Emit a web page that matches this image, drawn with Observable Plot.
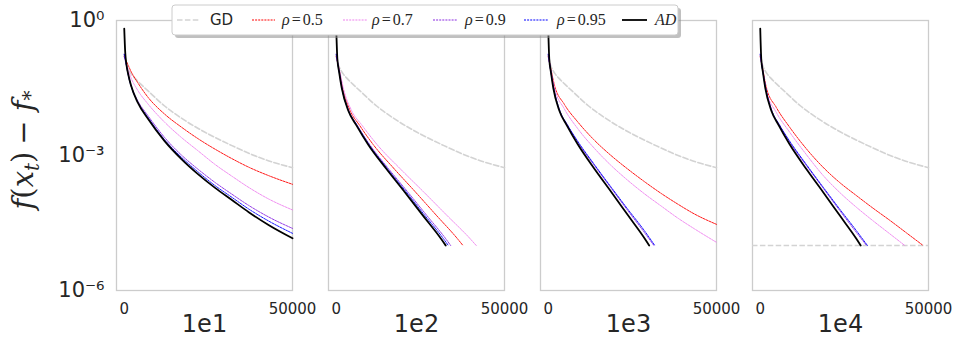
<!DOCTYPE html>
<html><head><meta charset="utf-8">
<script src="https://cdn.jsdelivr.net/npm/d3@7"></script>
<script src="https://cdn.jsdelivr.net/npm/@observablehq/plot@0.6"></script>
<style>
body{margin:0;background:#fff;}
#wrap{position:relative;width:960px;height:349px;}
#legend{position:absolute;left:0;top:0;pointer-events:none;}
</style></head><body><div id="wrap"></div>
<script>
// panels (x-axis labels under each subplot)
const panels = ["1e1", "1e2", "1e3", "1e4"];
// series
const seriesNames = ["GD", "ρ=0.5", "ρ=0.7", "ρ=0.9", "ρ=0.95", "AD"];
const seriesColors = ["#d3d3d3", "red", "violet", "blueviolet", "blue", "black"];
// ticks
const xTicks = [0, 50000];
const yTicks = [1, 1e-3, 1e-6];
const yTickLabels = ["10⁰", "10⁻³", "10⁻⁶"];
const stopLevel = 1e-5; // dashed reference line in last panel

// values: [iteration t, log10(f(x_t) - f*)]
const GD = [[0,-0.78],[500,-0.95],[1000,-1.05],[2000,-1.18],[3000,-1.27],[5000,-1.42],[7000,-1.56],[12000,-1.9],[17000,-2.17],[22000,-2.4],[27000,-2.6],[32000,-2.78],[37000,-2.95],[43000,-3.12],[50000,-3.27]];

const p1_r05 = [[0,-0.8],[600,-0.9],[1200,-1.0],[2000,-1.13],[4000,-1.38],[7000,-1.7],[12000,-2.08],[17000,-2.37],[22000,-2.63],[27000,-2.86],[32000,-3.07],[37000,-3.26],[43000,-3.45],[50000,-3.64]];
const p1_r07 = [[0,-0.8],[600,-0.95],[1200,-1.1],[2000,-1.27],[4000,-1.55],[7000,-1.85],[12000,-2.26],[17000,-2.6],[22000,-2.9],[27000,-3.2],[32000,-3.46],[37000,-3.71],[43000,-3.97],[50000,-4.21]];
const p1_r09 = [[0,-0.75],[600,-0.98],[1200,-1.2],[2000,-1.43],[4000,-1.78],[7000,-2.11],[12000,-2.6],[17000,-2.99],[22000,-3.31],[27000,-3.6],[32000,-3.86],[37000,-4.11],[43000,-4.37],[50000,-4.62]];
const p1_r095 = [[0,-0.75],[600,-0.98],[1200,-1.22],[2000,-1.45],[4000,-1.81],[7000,-2.15],[12000,-2.65],[17000,-3.04],[22000,-3.37],[27000,-3.67],[32000,-3.93],[37000,-4.19],[43000,-4.46],[50000,-4.73]];
const p1_AD = [[0,-0.18],[300,-0.72],[600,-0.95],[1200,-1.2],[2000,-1.44],[4000,-1.82],[7000,-2.18],[12000,-2.68],[17000,-3.08],[22000,-3.42],[27000,-3.72],[32000,-3.99],[37000,-4.26],[43000,-4.55],[50000,-4.84]];

const p2_r05 = [[0,-0.8],[1010,-1.15],[1900,-1.5],[4120,-2.0],[6940,-2.33],[11010,-2.76],[17270,-3.3],[23520,-3.81],[29760,-4.33],[36030,-4.85],[37660,-5.0]];
const p2_r07 = [[0,-0.8],[1110,-1.15],[2100,-1.5],[4550,-2.0],[7670,-2.33],[12170,-2.76],[19080,-3.3],[25980,-3.81],[32870,-4.33],[39800,-4.85],[41600,-5.0]];
const p2_r09 = [[0,-0.75],[910,-1.15],[1710,-1.5],[3720,-2.0],[6270,-2.33],[9950,-2.76],[15600,-3.3],[21250,-3.81],[26880,-4.33],[32540,-4.85],[34000,-5.0]];
const p2_r095 = [[0,-0.75],[890,-1.15],[1680,-1.5],[3640,-2.0],[6140,-2.33],[9740,-2.76],[15270,-3.3],[20800,-3.81],[26310,-4.33],[31860,-4.85],[33300,-5.0]];
const p2_AD = [[0,-0.18],[330,-0.85],[870,-1.15],[1640,-1.5],[3560,-2.0],[6000,-2.33],[9520,-2.76],[14930,-3.3],[20330,-3.81],[25720,-4.33],[31140,-4.85],[32540,-5.0]];

const p3_r05 = [[0,-0.8],[800,-1.08],[1790,-1.42],[4760,-1.86],[8730,-2.25],[13700,-2.66],[18650,-3.0],[23600,-3.3],[28570,-3.58],[33500,-3.84],[38490,-4.08],[43450,-4.3],[50000,-4.53]];
const p3_r07 = [[0,-0.8],[800,-1.1],[1790,-1.48],[4760,-1.96],[8730,-2.4],[13700,-2.84],[18650,-3.22],[23600,-3.55],[28570,-3.85],[33500,-4.12],[38490,-4.39],[43450,-4.63],[50000,-4.93]];
const p3_r09 = [[0,-0.75],[800,-1.15],[1600,-1.5],[3400,-2.0],[5700,-2.32],[8730,-2.7],[13700,-3.22],[18650,-3.72],[23600,-4.22],[28570,-4.71],[31400,-5.0]];
const p3_r095 = [[0,-0.75],[800,-1.15],[1600,-1.5],[3400,-2.0],[5700,-2.32],[8730,-2.68],[13700,-3.2],[18650,-3.70],[23600,-4.19],[28570,-4.67],[31660,-5.0]];
const p3_AD = [[0,-0.18],[300,-0.85],[800,-1.15],[1500,-1.5],[3280,-2.0],[5520,-2.33],[8770,-2.75],[13760,-3.3],[18730,-3.81],[23700,-4.33],[28700,-4.85],[30000,-5.0]];

const p4_r05 = [[0,-0.8],[800,-1.1],[1790,-1.48],[4760,-1.93],[8730,-2.37],[13700,-2.85],[18650,-3.26],[23600,-3.6],[28570,-3.89],[33500,-4.17],[38490,-4.44],[43450,-4.72],[48410,-5.0]];
const p4_r07 = [[0,-0.8],[800,-1.12],[1790,-1.55],[4760,-2.04],[8730,-2.48],[13700,-2.98],[18650,-3.44],[23600,-3.82],[28570,-4.15],[33500,-4.45],[38490,-4.74],[42950,-5.0]];
const p4_r09 = [[0,-0.75],[800,-1.15],[1600,-1.5],[3400,-2.0],[5700,-2.32],[8730,-2.7],[13700,-3.22],[18650,-3.72],[23600,-4.22],[28570,-4.71],[31600,-5.0]];
const p4_r095 = [[0,-0.75],[800,-1.15],[1600,-1.5],[3400,-2.0],[5700,-2.32],[8730,-2.68],[13700,-3.2],[18650,-3.70],[23600,-4.19],[28570,-4.67],[31850,-5.0]];
const p4_AD = [[0,-0.18],[300,-0.85],[800,-1.15],[1500,-1.5],[3270,-2.0],[5500,-2.33],[8730,-2.75],[13700,-3.3],[18650,-3.81],[23600,-4.33],[28570,-4.85],[29860,-5.0]];

const curveTable = [
  ["1e1", [GD, p1_r05, p1_r07, p1_r09, p1_r095, p1_AD]],
  ["1e2", [GD, p2_r05, p2_r07, p2_r09, p2_r095, p2_AD]],
  ["1e3", [GD, p3_r05, p3_r07, p3_r09, p3_r095, p3_AD]],
  ["1e4", [GD, p4_r05, p4_r07, p4_r09, p4_r095, p4_AD]]
];

const rows = [];
for (const [panel, list] of curveTable) {
  list.forEach((arr, si) => {
    for (const [t, lg] of arr) rows.push({panel, series: seriesNames[si], t, v: Math.pow(10, lg)});
  });
}

const styleOf = (i) => {
  if (i === 0) return {strokeWidth: 1.6, strokeDasharray: "5.5,2.4"};
  if (i === 5) return {strokeWidth: 1.8};
  return {strokeWidth: 0.9, strokeDasharray: "2,1.1"};
};

const lineMarks = seriesNames.map((name, i) =>
  Plot.line(rows.filter(d => d.series === name), {
    x: "t", y: "v", fx: "panel", stroke: seriesColors[i], curve: "monotone-x", ...styleOf(i)
  })
);

const chart = Plot.plot({
  width: 960,
  height: 349,
  marginLeft: 114,
  marginRight: 31,
  marginTop: 20,
  marginBottom: 59,
  style: {fontFamily: "DejaVu Sans", background: "white", color: "#262626"},
  fx: {domain: panels, axis: null, paddingInner: 0.171, paddingOuter: 0},
  x: {domain: [-2300, 50000]},
  y: {type: "log", domain: [1e-6, 1]},
  marks: [
    Plot.frame({stroke: "#cccccc", strokeWidth: 1.3}),
    Plot.ruleY([{panel: "1e4", v: stopLevel}], {y: "v", fx: "panel", stroke: "#d3d3d3", strokeWidth: 1.6, strokeDasharray: "5.5,2.4"}),
    ...lineMarks,
    Plot.axisX({ticks: xTicks, tickSize: 0, tickPadding: 13, fontSize: 15, tickFormat: d => String(d), label: null}),
    Plot.axisY({ticks: yTicks, tickSize: 0, tickPadding: 12, fontSize: 21, tickFormat: d => yTickLabels[yTicks.indexOf(d)], label: null}),
    Plot.text(panels, {fx: d => d, text: d => d, frameAnchor: "bottom", dy: 41, fontSize: 24})
  ]
});

const wrap = document.getElementById("wrap");
wrap.appendChild(chart);

// y-axis title with sub/superscripts
const svg = d3.select(chart);
const yl = svg.append("text")
  .attr("transform", "translate(33,150) rotate(-90)")
  .attr("text-anchor", "middle")
  .attr("font-family", "DejaVu Serif")
  .attr("font-size", 29)
  .attr("fill", "#262626");
yl.append("tspan").attr("font-style", "italic").text("f");
yl.append("tspan").text("(");
yl.append("tspan").attr("font-style", "italic").text("x");
yl.append("tspan").attr("font-style", "italic").attr("font-size", 20).attr("dy", 6).text("t");
yl.append("tspan").attr("dy", -6).text(")");
yl.append("tspan").attr("dx", 7).text("−");
yl.append("tspan").attr("dx", 9).attr("font-style", "italic").text("f");
yl.append("tspan").attr("font-size", 20).attr("dy", 4).text("*");

// legend overlay
const leg = d3.select(wrap).append("svg").attr("id", "legend").attr("width", 960).attr("height", 45);
leg.append("rect").attr("x", 175).attr("y", 8).attr("width", 506).attr("height", 30).attr("rx", 3).attr("fill", "#8c8c8c").attr("opacity", 0.55);
leg.append("rect").attr("x", 172).attr("y", 5).attr("width", 506).attr("height", 30).attr("rx", 3).attr("fill", "white").attr("stroke", "#cccccc").attr("stroke-width", 1);
const legItems = [
  {x0: 177, x1: 200, tx: 210},
  {x0: 252, x1: 275, tx: 282},
  {x0: 343, x1: 367, tx: 372},
  {x0: 433, x1: 457, tx: 465},
  {x0: 524, x1: 548, tx: 557},
  {x0: 622, x1: 647, tx: 655}
];
legItems.forEach((it, i) => {
  const st = styleOf(i);
  leg.append("line").attr("x1", it.x0).attr("x2", it.x1).attr("y1", 20).attr("y2", 20)
    .style("stroke", seriesColors[i]).style("stroke-width", i > 0 && i < 5 ? 1.2 : st.strokeWidth)
    .style("stroke-dasharray", st.strokeDasharray || "none");
  const t = leg.append("text").attr("x", it.tx).attr("y", 25).attr("fill", "#262626");
  const name = seriesNames[i];
  if (i === 0) {
    t.attr("font-family", "DejaVu Sans").attr("font-size", 15).text(name);
  } else if (i === 5) {
    t.attr("font-family", "Liberation Serif").attr("font-size", 16).attr("font-style", "italic").text(name);
  } else {
    t.attr("font-family", "Liberation Serif").attr("font-size", 16);
    t.append("tspan").attr("font-style", "italic").text(name[0]);
    t.append("tspan").attr("dx", 2).text("=");
    t.append("tspan").attr("dx", 2).text(name.slice(2));
  }
});
</script></body></html>
